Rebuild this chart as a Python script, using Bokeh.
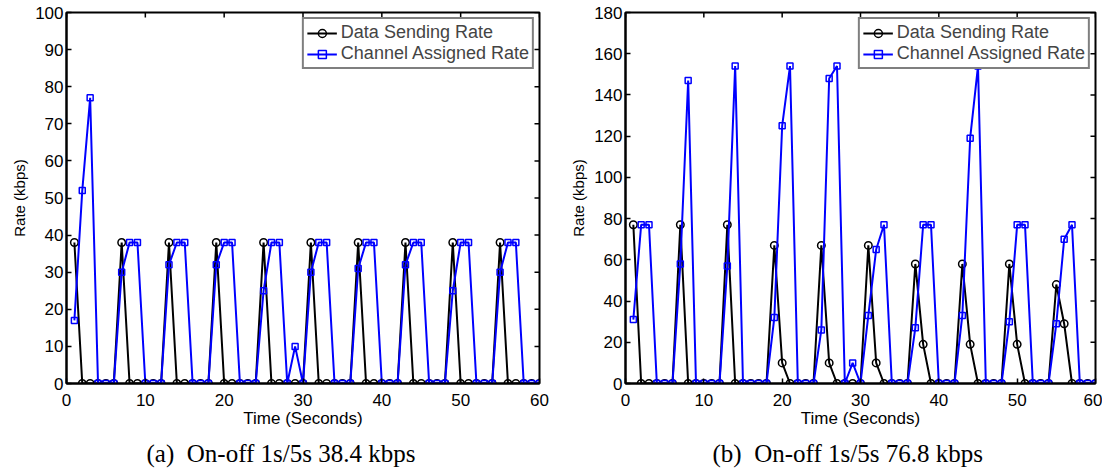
import math
from bokeh.plotting import figure
from bokeh.models import Range1d, FixedTicker, Title
from bokeh.layouts import row
from bokeh.embed import file_html
from bokeh.resources import INLINE

t = list(range(1, 61))

send_a = [38, 0, 0, 0, 0, 0, 38, 0, 0, 0, 0, 0, 38, 0, 0, 0, 0, 0, 38, 0,
          0, 0, 0, 0, 38, 0, 0, 0, 0, 0, 38, 0, 0, 0, 0, 0, 38, 0, 0, 0,
          0, 0, 38, 0, 0, 0, 0, 0, 38, 0, 0, 0, 0, 0, 38, 0, 0, 0, 0, 0]
chan_a = [17, 52, 77, 0, 0, 0, 30, 38, 38, 0, 0, 0, 32, 38, 38, 0, 0, 0, 32, 38,
          38, 0, 0, 0, 25, 38, 38, 0, 10, 0, 30, 38, 38, 0, 0, 0, 31, 38, 38, 0,
          0, 0, 32, 38, 38, 0, 0, 0, 25, 38, 38, 0, 0, 0, 30, 38, 38, 0, 0, 0]

send_b = [77, 0, 0, 0, 0, 0, 77, 0, 0, 0, 0, 0, 77, 0, 0, 0, 0, 0, 67, 10,
          0, 0, 0, 0, 67, 10, 0, 0, 0, 0, 67, 10, 0, 0, 0, 0, 58, 19, 0, 0,
          0, 0, 58, 19, 0, 0, 0, 0, 58, 19, 0, 0, 0, 0, 48, 29, 0, 0, 0, 0]
chan_b = [31, 77, 77, 0, 0, 0, 58, 147, 0, 0, 0, 0, 57, 154, 0, 0, 0, 0, 32, 125,
          154, 0, 0, 0, 26, 148, 154, 0, 10, 0, 33, 65, 77, 0, 0, 0, 27, 77, 77, 0,
          0, 0, 33, 119, 154, 0, 0, 0, 30, 77, 77, 0, 0, 0, 29, 70, 77, 0, 0, 0]

x_ticks = [0, 10, 20, 30, 40, 50, 60]
y_ticks_a = list(range(0, 101, 10))
y_ticks_b = list(range(0, 181, 20))

FONT = "Liberation Sans"
TICK = "17px"


def style_axis(ax, ticks):
    ax.ticker = FixedTicker(ticks=ticks)
    ax.axis_line_color = "black"
    ax.axis_line_width = 2
    ax.major_tick_line_color = "black"
    ax.major_tick_line_width = 1.5
    ax.major_tick_in = 5
    ax.major_tick_out = 0
    ax.minor_tick_line_color = None
    ax.major_label_text_font = FONT
    ax.major_label_text_color = "black"
    ax.major_label_text_font_size = TICK
    ax.axis_label_text_font = FONT
    ax.axis_label_text_font_style = "normal"
    ax.axis_label_text_color = "black"


def make(send, chan, ymax, yt, caption, width, bl, br, cap_off):
    p = figure(width=width, height=473, output_backend="svg", toolbar_location=None,
               x_range=Range1d(0, 60), y_range=Range1d(0, ymax),
               min_border_left=bl, min_border_right=br, min_border_top=12,
               min_border_bottom=0)
    p.grid.visible = False
    p.outline_line_color = "black"
    p.outline_line_width = 2
    p.background_fill_color = "white"
    p.border_fill_color = "white"

    style_axis(p.xaxis[0], x_ticks)
    style_axis(p.yaxis[0], yt)
    p.xaxis[0].axis_label = "Time (Seconds)"
    p.xaxis[0].axis_label_text_font_size = "17px"
    p.xaxis[0].major_label_standoff = 10
    p.xaxis[0].axis_label_standoff = 0
    p.yaxis[0].axis_label = "Rate (kbps)"
    p.yaxis[0].axis_label_text_font_size = "15px"
    p.yaxis[0].major_label_standoff = 3
    p.yaxis[0].axis_label_standoff = 4

    # inward tick marks on the top and right edges of the box
    p.scatter(x_ticks, [ymax] * len(x_ticks), marker="dash", angle=math.pi / 2,
              size=10, line_color="black", line_width=1.5)
    p.scatter([60] * len(yt), yt, marker="dash", size=10,
              line_color="black", line_width=1.5)

    p.line(t, send, line_color="black", line_width=2, legend_label="Data Sending Rate")
    p.scatter(t, send, marker="circle", size=7.5, line_color="black", line_width=1.5,
              fill_color=None, legend_label="Data Sending Rate")
    p.line(t, chan, line_color="#0000ff", line_width=2, legend_label="Channel Assigned Rate")
    p.scatter(t, chan, marker="square", size=6, line_color="#0000ff", line_width=1.5,
              fill_color=None, legend_label="Channel Assigned Rate")

    lg = p.legend[0]
    lg.location = "top_right"
    lg.border_line_color = "black"
    lg.border_line_width = 2
    lg.background_fill_alpha = 1
    lg.padding = 3
    lg.spacing = 0
    lg.margin = 5
    lg.glyph_width = 30
    lg.glyph_height = 20
    lg.label_standoff = 4
    lg.label_text_font = FONT
    lg.label_text_font_size = "18px"
    lg.label_height = 20

    cap = Title(text=caption, align="left", offset=cap_off, text_font="Liberation Serif",
                text_font_size="25px", text_font_style="normal", text_color="black",
                standoff=14)
    p.add_layout(cap, "below")
    return p


p1 = make(send_a, chan_a, 100, y_ticks_a, "(a)\u00a0 On-off 1s/5s 38.4 kbps", 552, 66, 13, 80)
p2 = make(send_b, chan_b, 180, y_ticks_b, "(b)\u00a0 On-off 1s/5s 76.8 kbps", 550, 73, 7, 87)

layout = row(p1, p2)
open("out.html", "w").write(file_html(layout, INLINE))
